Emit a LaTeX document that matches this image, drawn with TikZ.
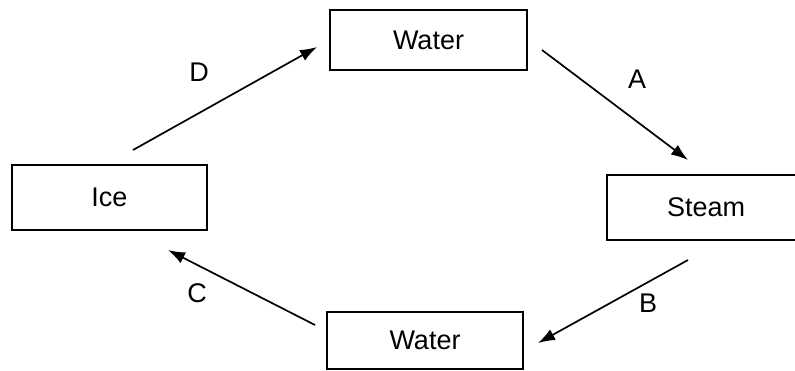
\documentclass[tikz,border=0pt]{standalone}
\usepackage{fontspec}
\setmainfont{Liberation Sans}
\usetikzlibrary{arrows.meta}
\begin{document}
\begin{tikzpicture}[x=1pt,y=-1pt,
  box/.style={draw, line width=2pt, rectangle, inner sep=0pt, font=\fontsize{27}{32}\selectfont},
  lbl/.style={font=\fontsize{27}{32}\selectfont, inner sep=0pt},
  arr/.style={line width=1.7pt, -{Latex[length=17pt,width=12pt]}}]
\useasboundingbox (0,0) rectangle (795,370);
\clip (0,0) rectangle (795,370);
\node[box, minimum width=197pt, minimum height=60pt] (wtop) at (428.5,40) {Water};
\node[box, minimum width=195pt, minimum height=65pt] (ice) at (109.5,197.5) {Ice};
\node[box, minimum width=198pt, minimum height=65pt, text width=198pt, align=left] (steam) at (706,207.5) {\hspace*{60pt}Steam};
\node[box, minimum width=196pt, minimum height=57pt] (wbot) at (425,340.5) {Water};
\coordinate (d1) at (133,150); \coordinate (d2) at (317,47);
\coordinate (a1) at (542,50); \coordinate (a2) at (688,160);
\coordinate (b1) at (688,260); \coordinate (b2) at (538,343);
\coordinate (c1) at (315,325); \coordinate (c2) at (168,250);
\draw[arr] (d1) -- (d2);
\draw[arr] (a1) -- (a2);
\draw[arr] (b1) -- (b2);
\draw[arr] (c1) -- (c2);
\node[lbl] (lD) at (199,72) {D};
\node[lbl] (lA) at (637,79) {A};
\node[lbl] (lB) at (648,303) {B};
\node[lbl] (lC) at (197,293) {C};
\end{tikzpicture}
\end{document}
